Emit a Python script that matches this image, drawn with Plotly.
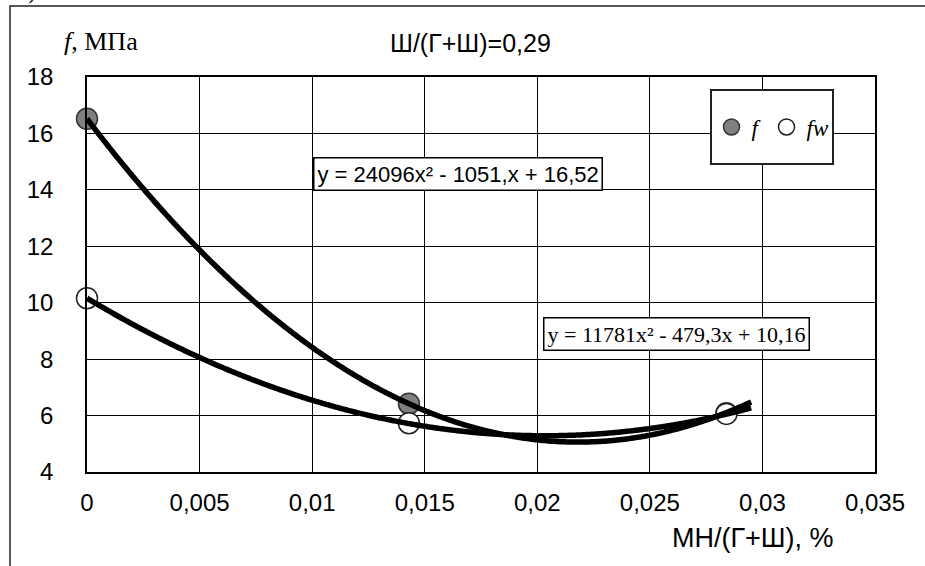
import numpy as np
import plotly.graph_objects as go

# Measured points: share of МН in (Г+Ш) vs. strength
mn_share = [0.0, 0.0143, 0.0284]
f_vals = [16.52, 6.42, 6.08]
fw_vals = [10.16, 5.73, 6.06]

# Quadratic trend coefficients (a, b, c) for y = a*x^2 + b*x + c
f_coef = [24096, -1051, 16.52]
fw_coef = [11781, -479.3, 10.16]
trend_end = 0.0295

x_ticks = [0, 0.005, 0.01, 0.015, 0.02, 0.025, 0.03, 0.035]
x_tick_text = ["0", "0,005", "0,01", "0,015", "0,02", "0,025", "0,03", "0,035"]
y_ticks = [4, 6, 8, 10, 12, 14, 16, 18]

W, H = 925, 566
L, R, T, B = 87, 50, 77, 94
PW, PH = W - L - R, H - T - B


def px_x(p):
    return (p - L) / PW


def px_y(p):
    return (H - B - p) / PH


xs = np.linspace(0, trend_end, 300)
f_trend = np.polyval(f_coef, xs)
fw_trend = np.polyval(fw_coef, xs)

fig = go.Figure()
fig.add_trace(go.Scatter(
    x=mn_share, y=f_vals, mode="markers", name="<i>f</i>", cliponaxis=False,
    marker=dict(size=21, color="#808080", line=dict(color="#333333", width=1.5)),
))
fig.add_trace(go.Scatter(
    x=mn_share, y=fw_vals, mode="markers", name="<i>fw</i>", cliponaxis=False,
    marker=dict(size=21, color="white", line=dict(color="#222222", width=1.5)),
))
fig.add_trace(go.Scatter(
    x=xs, y=f_trend, mode="lines", showlegend=False,
    line=dict(color="black", width=5.5, shape="spline"),
))
fig.add_trace(go.Scatter(
    x=xs, y=fw_trend, mode="lines", showlegend=False,
    line=dict(color="black", width=5.5, shape="spline"),
))

sans = "Liberation Sans, Arial, sans-serif"
serif = "Liberation Serif, Times New Roman, serif"

fig.update_layout(
    width=W, height=H,
    margin=dict(l=L, r=R, t=T, b=B),
    paper_bgcolor="white", plot_bgcolor="white",
    font=dict(family=sans, size=24, color="black"),
    showlegend=True,
    legend=dict(
        orientation="h", x=px_x(773), y=px_y(127),
        xanchor="center", yanchor="middle",
        bgcolor="rgba(0,0,0,0)", borderwidth=0,
        font=dict(family=serif, size=23, color="black"),
        itemwidth=30, itemclick=False,
    ),
    xaxis=dict(
        range=[0, 0.035], tickvals=x_ticks, ticktext=x_tick_text,
        showgrid=True, gridcolor="black", gridwidth=1,
        showline=True, linecolor="black", linewidth=1.5, mirror=True,
        ticks="", ticklabelstandoff=8, zeroline=False,
        tickfont=dict(family=sans, size=24),
    ),
    yaxis=dict(
        range=[4, 18], tickvals=y_ticks,
        showgrid=True, gridcolor="black", gridwidth=1,
        showline=True, linecolor="black", linewidth=1.5, mirror=True,
        ticks="", ticklabelstandoff=27, zeroline=False,
        tickfont=dict(family=sans, size=24),
    ),
    shapes=[
        # outer frame of the figure panel
        dict(type="rect", xref="paper", yref="paper",
             x0=px_x(10), x1=px_x(940), y0=px_y(580), y1=px_y(6),
             line=dict(color="#222222", width=1.5), layer="below"),
        # legend frame
        dict(type="rect", xref="paper", yref="paper",
             x0=px_x(711), x1=px_x(833), y0=px_y(164), y1=px_y(90),
             line=dict(color="#222222", width=2), fillcolor="white", layer="above"),
    ],
    annotations=[
        dict(text="<i>f</i>, МПа", xref="paper", yref="paper",
             x=px_x(62), y=px_y(42), xanchor="left", yanchor="middle",
             showarrow=False, font=dict(family=serif, size=26)),
        dict(text="Ш/(Г+Ш)=0,29", xref="paper", yref="paper",
             x=px_x(470), y=px_y(43), xanchor="center", yanchor="middle",
             showarrow=False, font=dict(family=sans, size=25)),
        dict(text="МН/(Г+Ш), %", xref="paper", yref="paper",
             x=px_x(753), y=px_y(538), xanchor="center", yanchor="middle",
             showarrow=False, font=dict(family=sans, size=27)),
        dict(text="y = 24096x² - 1051,x + 16,52", xref="paper", yref="paper",
             x=px_x(458), y=px_y(174), xanchor="center", yanchor="middle",
             showarrow=False, font=dict(family=sans, size=22),
             bgcolor="white", bordercolor="black", borderwidth=1.5, borderpad=3),
        dict(text="y = 11781x² - 479,3x + 10,16", xref="paper", yref="paper",
             x=px_x(676), y=px_y(334), xanchor="center", yanchor="middle",
             showarrow=False, font=dict(family=serif, size=22),
             bgcolor="white", bordercolor="black", borderwidth=1.5, borderpad=3),
        dict(text="б)", xref="paper", yref="paper",
             x=px_x(38), y=px_y(-8), xanchor="right", yanchor="middle",
             showarrow=False, font=dict(family=serif, size=22)),
    ],
)

fig.write_html("out.html")
